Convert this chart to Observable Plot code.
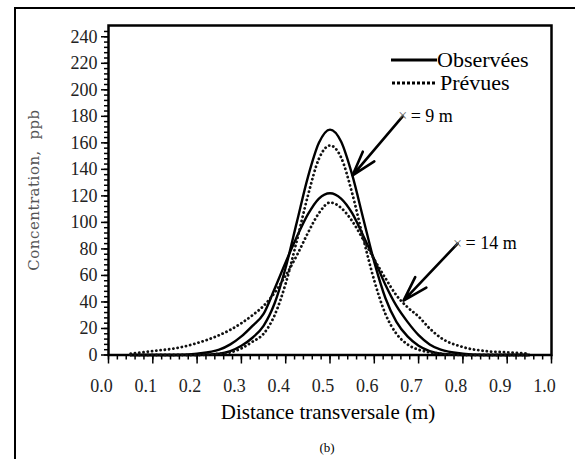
<!DOCTYPE html>
<html>
<head>
<meta charset="utf-8">
<script src="https://cdn.jsdelivr.net/npm/d3@7"></script>
<script src="https://cdn.jsdelivr.net/npm/@observablehq/plot@0.6"></script>
<style>
  html, body { margin: 0; padding: 0; background: #fff; }
  #wrap { position: relative; width: 575px; height: 459px; overflow: hidden; background: #fff; }
  #box { position: absolute; left: 14px; top: 7px; width: 560px; height: 470px; border-left: 2px solid #000; border-top: 2px solid #000; }
  #chart { position: absolute; left: 0; top: 0; }
  .lbl { position: absolute; font-family: 'Liberation Serif', serif; color: #000; white-space: nowrap; line-height: 1; }
  #chart svg text { font-family: 'Liberation Serif', serif; }
</style>
</head>
<body>
<div id="wrap">
  <div id="box"></div>
  <div id="chart"></div>
</div>
<script>
// ---- data ----
const xs = [0.05,0.1,0.15,0.2,0.25,0.275,0.3,0.325,0.35,0.375,0.4,0.425,0.45,0.475,0.5,0.525,0.55,0.575,0.6,0.625,0.65,0.675,0.7,0.725,0.75,0.8,0.85,0.9,0.95];
const obs9  = [0,0,0,0,1,3,7,13,22,39,66,100,134,160,170,161,136,103,70,43,25,14,7,3,1,0,0,0,0];
const pred9 = [0,0,0,0,1,2,5,10,16,30,54,86,120,148,158,149,122,88,56,31,16,8,4,2,1,0,0,0,0];
const obs14 = [0,0,0,1,4,8,14,22,31,50,70,89,106,118,122,118,107,90,72,53,37,25,15,8,4,1,0,0,0];
const pred14= [1,3,5,9,15,19,24,30,37,47,60,75,92,107,115,111,101,87,72,58,45,36,29,20,13,6,3,2,1];

const seriesNames = ["Observées x = 9 m","Prévues x = 9 m","Observées x = 14 m","Prévues x = 14 m"];
const seriesValues = [obs9, pred9, obs14, pred14];
const seriesKind = ["Observées","Prévues","Observées","Prévues"];

const xMajor = [0,0.1,0.2,0.3,0.4,0.5,0.6,0.7,0.8,0.9,1.0];
const xMinor = d3.range(0, 1.0001, 0.02);
const yMajor = [0,20,40,60,80,100,120,140,160,180,200,220,240];
const yMinor = d3.range(0, 248, 4);

const annX1 = [0.664, 0.788];
const annY1 = [180, 84];
const annX2 = [0.551, 0.666];
const annY2 = [135.5, 41];
const annText = ["= 9 m", "= 14 m"];

// ---- build tables ----
const rows = [];
seriesValues.forEach((vals, i) => vals.forEach((v, j) => rows.push({x: xs[j], y: v, s: seriesNames[i], kind: seriesKind[i]})));
const ann = annText.map((t, i) => ({x1: annX1[i], y1: annY1[i], x2: annX2[i], y2: annY2[i], t}));

const solid = rows.filter(d => d.kind === "Observées");
const dotted = rows.filter(d => d.kind === "Prévues");

const SERIF = "Liberation Serif";

const chart = Plot.plot({
  width: 575,
  height: 459,
  marginLeft: 108,
  marginRight: 24,
  marginTop: 25,
  marginBottom: 104.5,
  x: {domain: [0, 1]},
  y: {domain: [0, 248.5]},
  style: {fontFamily: SERIF, fontSize: "18px", color: "#000", background: "transparent", overflow: "visible"},
  marks: [
    Plot.axisX({ticks: xMinor, tickSize: 5, tickFormat: () => "", label: null, strokeWidth: 1.5}),
    Plot.axisX({ticks: xMajor, tickSize: 9, tickFormat: () => "", label: null, strokeWidth: 1.5}),
    Plot.axisX({ticks: xMajor, tickSize: 0, tickPadding: 24, tickFormat: d => d.toFixed(1), label: null, dx: -7, fill: "#222", fontSize: 18, fontFamily: SERIF}),
    Plot.axisY({ticks: yMinor, tickSize: 4, tickFormat: () => "", label: null, strokeWidth: 1.5}),
    Plot.axisY({ticks: yMajor, tickSize: 7, tickPadding: 4, label: null, fill: "#222", fontSize: 18, fontFamily: SERIF, strokeWidth: 1.5}),
    Plot.frame({stroke: "#000", strokeWidth: 2.5}),
    Plot.line(solid, {x: "x", y: "y", z: "s", stroke: "#000", strokeWidth: 2.4, curve: "monotone-x"}),
    Plot.line(dotted, {x: "x", y: "y", z: "s", stroke: "#111", strokeWidth: 2.8, strokeDasharray: "0.1,4.2", strokeLinecap: "round", curve: "monotone-x"}),
    Plot.arrow(ann, {x1: "x1", y1: "y1", x2: "x2", y2: "y2", stroke: "#000", strokeWidth: 2.6, headLength: 34, headAngle: 34}),
    Plot.text(ann, {x: "x1", y: "y1", text: () => "×", fill: "#666", fontSize: 16, fontFamily: SERIF, textAnchor: "middle"}),
    Plot.text(ann, {x: "x1", y: "y1", text: "t", dx: 8, textAnchor: "start", fill: "#000", fontSize: 18, fontFamily: SERIF})
  ]
});
document.getElementById("chart").appendChild(chart);

// legend + titles as real text
const wrap = document.getElementById("wrap");
function addLbl(html, css) {
  const d = document.createElement("div");
  d.className = "lbl";
  d.innerHTML = html;
  Object.assign(d.style, css);
  wrap.appendChild(d);
  return d;
}
const leg = document.createElementNS("http://www.w3.org/2000/svg", "svg");
leg.setAttribute("width", 60); leg.setAttribute("height", 50);
leg.style.position = "absolute"; leg.style.left = "388px"; leg.style.top = "40px";
leg.innerHTML = '<line x1="3" x2="49" y1="20" y2="20" stroke="#000" stroke-width="3"/>' +
  '<line x1="4" x2="48" y1="43" y2="43" stroke="#000" stroke-width="3" stroke-dasharray="3,2"/>';
wrap.appendChild(leg);
addLbl("Observées", {left: "437px", top: "49px", fontSize: "22px"});
addLbl("Prévues", {left: "440px", top: "72px", fontSize: "22px"});
addLbl("Concentration,&nbsp;&nbsp;ppb", {left: "34px", top: "190px", fontSize: "15px", fontFamily: "'DejaVu Serif', serif", color: "#555", transform: "translate(-50%,-50%) rotate(-90deg)", letterSpacing: "0.5px"});
addLbl("Distance transversale (m)", {left: "328px", top: "412px", fontSize: "21px", transform: "translate(-50%,-50%)"});
addLbl("(b)", {left: "327px", top: "447px", fontSize: "13px", transform: "translate(-50%,-50%)"});
</script>
</body>
</html>
